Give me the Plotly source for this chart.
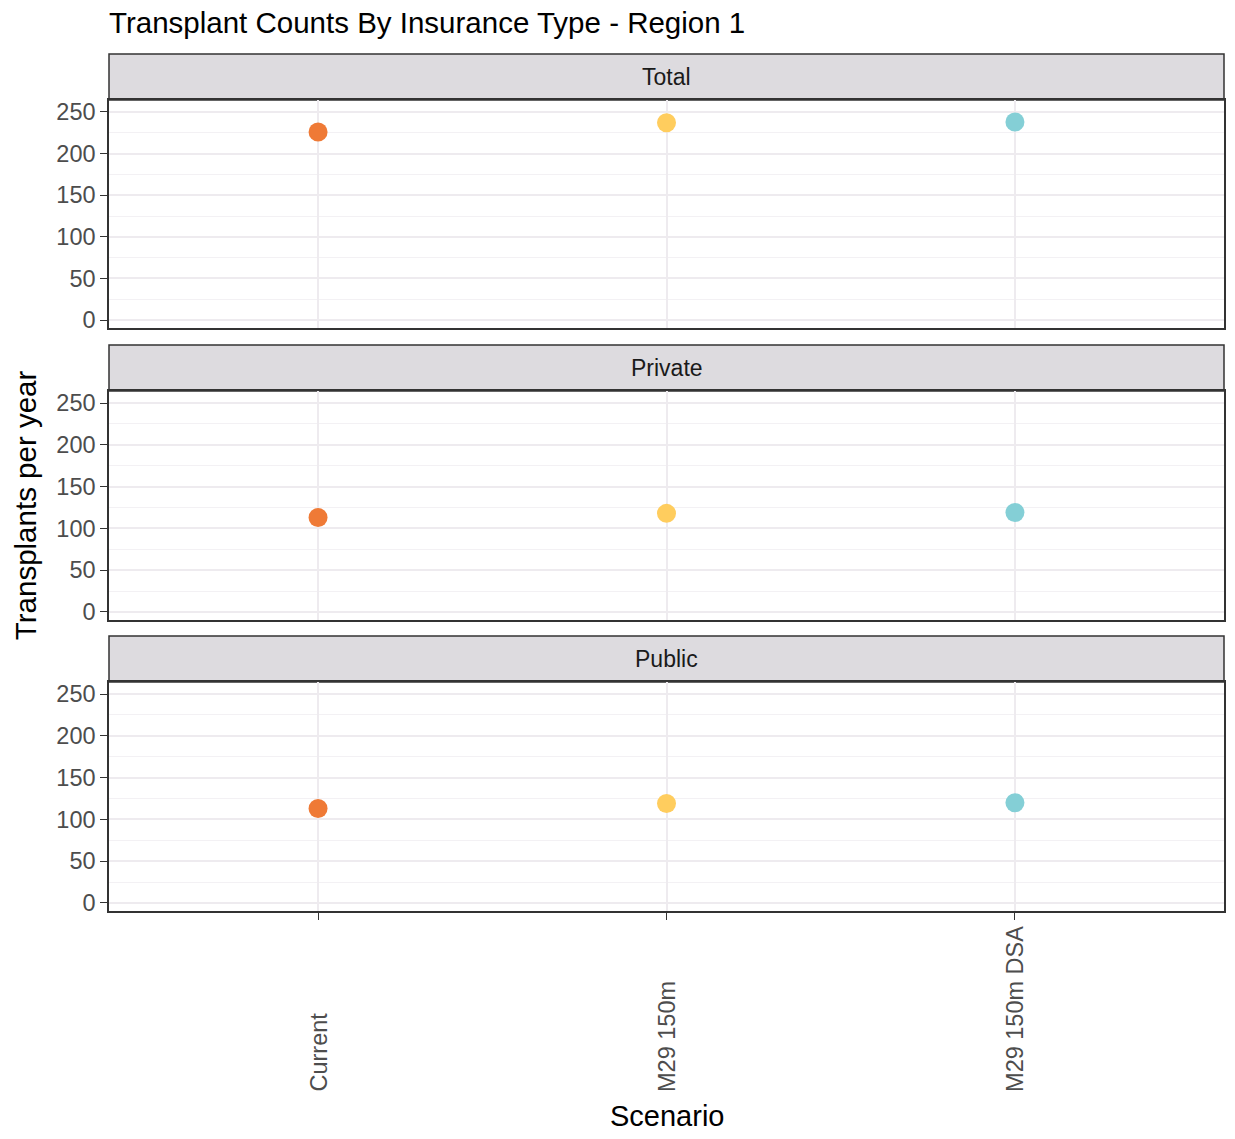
import plotly.graph_objects as go

# data
scenarios = ["Current", "M29 150m", "M29 150m DSA"]
panels = ["Total", "Private", "Public"]
total = [226, 237, 238]
private = [113, 118, 119]
public = [113, 119, 120]
values = {"Total": total, "Private": private, "Public": public}
colors = ["#EF7A36", "#FFCD5E", "#84CFD6"]

FONT = "Arial, Liberation Sans, sans-serif"
OFF = 8  # page body margin
W, H = 1235 - 2 * OFF, 1139 - 2 * OFF  # keep the page from overflowing
ML, MR, MT = 109 - OFF, 1, 54 - OFF
MB = H - (911 - OFF)
PH = H - MT - MB  # plot height in px

def py(pix):
    # page pixel row -> paper fraction
    return (H - MB - (pix - OFF)) / PH

def px(pix):
    return (pix - OFF - ML) / (W - ML - MR)

# (strip top, panel top, panel bottom) in page pixels
rows = [(54, 100, 328), (345, 391, 620), (636, 682, 911)]

fig = go.Figure()
shapes = []
annotations = []

for i, name in enumerate(panels):
    n = "" if i == 0 else str(i + 1)
    s_top, p_top, p_bot = rows[i]
    fig.add_trace(go.Scatter(
        x=scenarios, y=values[name], mode="markers",
        marker=dict(color=colors, size=19, line=dict(width=0)),
        xaxis="x" + n, yaxis="y" + n, showlegend=False,
    ))
    last = i == len(panels) - 1
    fig.update_layout(**{
        "xaxis" + n: dict(
            domain=[0, 1], anchor="y" + n, type="category",
            range=[-0.6, 2.6], showgrid=True, gridcolor="#EEEBEF", gridwidth=1.5,
            showline=True, linecolor="#333333", linewidth=1.5, mirror=True,
            ticks="outside" if last else "", ticklen=7, tickcolor="#333333",
            showticklabels=False, zeroline=False,
        ),
        "yaxis" + n: dict(
            domain=[py(p_bot), py(p_top)], anchor="x" + n,
            range=[-9.6, 264.4], tickvals=[0, 50, 100, 150, 200, 250],
            showgrid=True, gridcolor="#EEEBEF", gridwidth=1.5,
            minor=dict(tickvals=[25, 75, 125, 175, 225], showgrid=True,
                       gridcolor="#F3F1F4", gridwidth=1),
            showline=True, linecolor="#333333", linewidth=1.5, mirror=True,
            ticks="outside", ticklen=7, tickcolor="#333333",
            tickfont=dict(family=FONT, size=23.5, color="#4D4D4D"),
            zeroline=False,
        ),
    })
    # facet strip
    shapes.append(dict(
        type="rect", xref="paper", yref="paper", x0=0, x1=1,
        y0=py(p_top), y1=py(s_top), fillcolor="#DDDBDF",
        line=dict(color="#333333", width=1.5), layer="below",
    ))
    annotations.append(dict(
        text=name, xref="paper", yref="paper", x=0.5, y=(py(p_top) + py(s_top)) / 2,
        showarrow=False, xanchor="center", yanchor="middle",
        font=dict(family=FONT, size=23, color="#1A1A1A"),
    ))

# rotated x tick labels, bottom-aligned like ggplot's hjust=1
for s in scenarios:
    annotations.append(dict(
        text=s, xref="x3", yref="paper", x=s, y=py(1094), textangle=-90,
        showarrow=False, xanchor="center", yanchor="bottom",
        font=dict(family=FONT, size=23.5, color="#4D4D4D"),
    ))

annotations.append(dict(
    text="Transplants per year", xref="paper", yref="paper",
    x=px(25), y=py(505), textangle=-90,
    showarrow=False, xanchor="center", yanchor="middle",
    font=dict(family=FONT, size=29.5, color="#000000"),
))
annotations.append(dict(
    text="Scenario", xref="paper", yref="paper", x=0.5, y=py(1116),
    showarrow=False, xanchor="center", yanchor="middle",
    font=dict(family=FONT, size=29, color="#000000"),
))

fig.update_layout(
    width=W, height=H,
    margin=dict(l=ML, r=MR, t=MT, b=MB),
    paper_bgcolor="white", plot_bgcolor="white",
    title=dict(text="Transplant Counts By Insurance Type - Region 1",
               x=0, xref="paper", xanchor="left",
               y=1 - (23 - OFF) / H, yref="container", yanchor="middle",
               font=dict(family=FONT, size=29.5, color="#000000")),
    shapes=shapes, annotations=annotations,
)

fig.write_html("out.html")
